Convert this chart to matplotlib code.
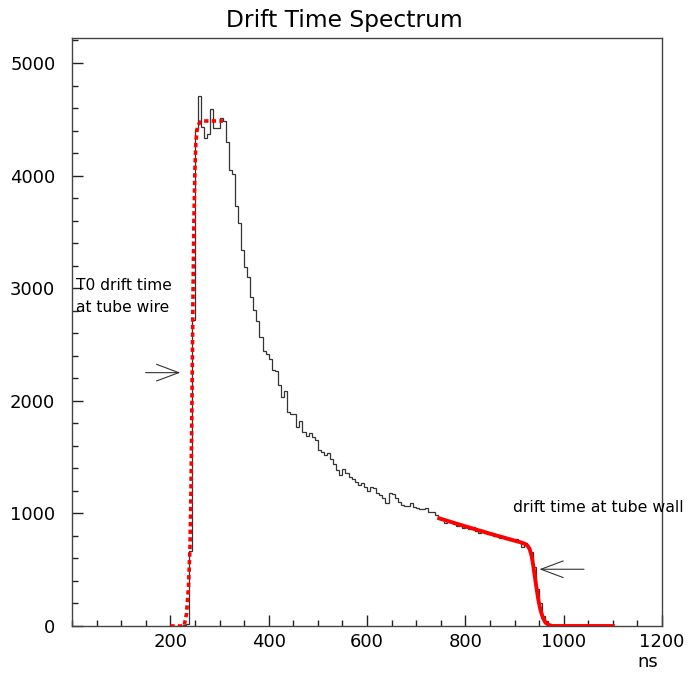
import numpy as np
import matplotlib
matplotlib.use("Agg")
import matplotlib.pyplot as plt
from matplotlib.ticker import MultipleLocator

plt.rcParams['font.family'] = ['DejaVu Sans']

# 直方图：6.25 ns 一格，从 200 ns 开始
BIN_LO = 200.0
BIN_W = 6.25
counts = [
    0, 0, 0, 0, 5, 20, 670, 2720, 4410, 4710,
    4430, 4330, 4370, 4590, 4426, 4426, 4509, 4485, 4301, 4050,
    4014, 3730, 3582, 3340, 3191, 3102, 2925, 2806, 2708, 2569,
    2445, 2420, 2375, 2270, 2265, 2140, 2030, 2090, 1900, 1880,
    1880, 1765, 1823, 1726, 1690, 1711, 1681, 1652, 1563, 1548,
    1519, 1536, 1480, 1436, 1385, 1341, 1391, 1360, 1326, 1306,
    1282, 1252, 1270, 1232, 1199, 1232, 1225, 1178, 1163, 1139,
    1090, 1184, 1175, 1134, 1104, 1075, 1066, 1070, 1093, 1060,
    1045, 1040, 1036, 1046, 1015, 1010, 990, 948, 957, 917,
    935, 920, 905, 888, 905, 870, 880, 862, 875, 848,
    830, 855, 830, 818, 822, 800, 810, 785, 795, 770,
    785, 760, 775, 745, 700, 735, 705, 660, 520, 330,
    200, 90, 40, 15, 5, 0, 0, 0, 0, 0,
    0, 0, 0, 0, 0, 0, 0, 0, 0, 0,
    0, 0, 0, 0,
]

# T0 拟合曲线（红色虚线），从图上读点
t0_fit_x = [200, 228, 233, 237, 240, 242, 244, 246, 248, 250, 252, 255, 260, 265, 307]
t0_fit_y = [0, 0, 110, 350, 700, 1200, 2000, 2900, 3600, 4050, 4300, 4430, 4475, 4485, 4485]

# 管壁拟合曲线（红色实线）
wall_fit_x = [747, 800, 850, 900, 915, 922, 927, 931, 935, 938, 941, 945, 949, 953, 958, 963, 970, 978, 1100]
wall_fit_y = [956, 885, 820, 758, 740, 728, 710, 680, 620, 540, 450, 330, 220, 140, 70, 30, 8, 0, 0]

fig = plt.figure(figsize=(6.88, 6.75), dpi=100)
ax = fig.add_axes([72 / 688, 49 / 675, 590 / 688, 588 / 675])

edges = BIN_LO + BIN_W * np.arange(len(counts) + 1)
ax.stairs(counts, edges, color='#333333', linewidth=0.9, zorder=2)

ax.plot(t0_fit_x, t0_fit_y, color='red', linewidth=2.6, linestyle=(0, (1.2, 0.9)), zorder=3)
ax.plot(wall_fit_x, wall_fit_y, color='red', linewidth=2.8, zorder=3)

ax.set_xlim(0, 1200)
ax.set_ylim(0, 5222)
ax.set_xticks([200, 400, 600, 800, 1000, 1200])
ax.xaxis.set_minor_locator(MultipleLocator(50))
ax.yaxis.set_major_locator(MultipleLocator(1000))
ax.yaxis.set_minor_locator(MultipleLocator(200))
ax.tick_params(which='both', direction='in', top=False, right=False, width=1.0, colors='#222222',
               labelsize=13, labelcolor='black')
ax.tick_params(which='major', length=8)
ax.tick_params(which='minor', length=4)
ax.tick_params(axis='y', pad=12)
ax.tick_params(axis='x', pad=5)
for s in ax.spines.values():
    s.set_color('#444444')
    s.set_linewidth(1.0)

fig.text(0.5, 1 - 20 / 675, 'Drift Time Spectrum', ha='center', va='center', fontsize=16.8)
fig.text(648 / 688, 1 - 662 / 675, 'ns', ha='center', va='center', fontsize=13)

# 注释
ax.text(8, 3020, 'T0 drift time', ha='left', va='center', fontsize=11.2)
ax.text(8, 2825, 'at tube wire', ha='left', va='center', fontsize=11.2)
ax.annotate('', xy=(226, 2250), xytext=(144, 2250),
            arrowprops=dict(arrowstyle='->,head_length=1.6,head_width=0.6', color='#333333', lw=0.8))

ax.text(897, 1048, 'drift time at tube wall', ha='left', va='center', fontsize=11.3, clip_on=False)
ax.annotate('', xy=(945, 504), xytext=(1047, 504),
            arrowprops=dict(arrowstyle='->,head_length=1.6,head_width=0.6', color='#333333', lw=0.8))

plt.savefig('out.png', dpi=100)
plt.close()
